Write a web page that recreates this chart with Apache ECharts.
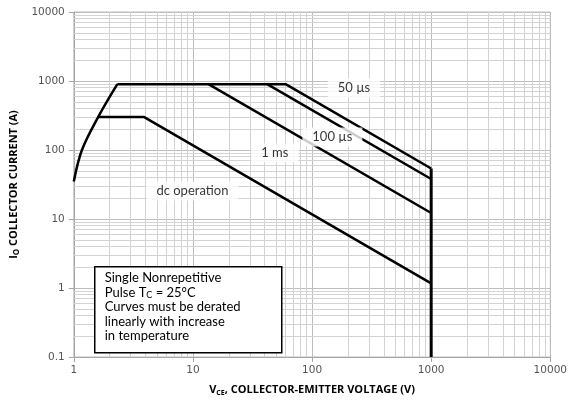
<!DOCTYPE html>
<html>
<head>
<meta charset="utf-8">
<script src="https://cdn.jsdelivr.net/npm/echarts@6/dist/echarts.min.js"></script>
<style>
  html, body { margin: 0; padding: 0; background: #fff; }
  #chart { width: 570px; height: 401px; }
</style>
</head>
<body>
<div id="chart"></div>
<script>
// Safe operating area boundaries, [V_CE (V), I_C (A)]
const pulseRise = [[1, 35], [1.17, 100], [1.6, 300], [2.32, 900]];
const pulse50us = [[2.32, 900], [60, 900], [1000, 54]];
const pulse100us = [[42, 900], [1000, 38]];
const pulse1ms = [[13.5, 900], [1000, 12.2]];
const dcOperation = [[1.6, 300], [3.9, 300], [1000, 1.17]];
const voltageLimit = [[1000, 0.1], [1000, 54]];

// Curve captions, placed in data space
const captionText = ['50 \u00b5s', '100 \u00b5s', '1 ms', 'dc operation'];
const captionAt = [[225, 795], [148, 154], [48.7, 90.5], [9.9, 25.5]];

// Axis extents (decades)
const xDecades = [1, 10, 100, 1000, 10000];
const yDecades = [0.1, 1, 10, 100, 1000, 10000];

// Minor gridline positions: 2..9 within each decade
function minorSteps(decades) {
  const out = [];
  for (let i = 0; i < decades.length - 1; i++) {
    for (let m = 2; m <= 9; m++) out.push(+(decades[i] * m).toPrecision(6));
  }
  return out;
}
const xMinor = minorSteps(xDecades);
const yMinor = minorSteps(yDecades);

const chart = echarts.init(document.getElementById('chart'), null, { renderer: 'canvas' });

function curve(data, width, smooth) {
  return {
    type: 'line', data: data, showSymbol: false, symbol: 'none', silent: true,
    smooth: smooth || false,
    lineStyle: { color: '#000', width: width || 2.5 }, z: 5, animation: false
  };
}

const gridLines = {
  type: 'line', data: [], silent: true, animation: false, z: 1,
  markLine: {
    silent: true, symbol: 'none', animation: false, label: { show: false },
    lineStyle: { color: '#d3d3d3', width: 1, type: 'solid' },
    data: xMinor.map(v => ({ xAxis: v })).concat(yMinor.map(v => ({ yAxis: v })))
  }
};

const captions = {
  type: 'scatter', data: captionAt.map((p, i) => ({ value: p, name: captionText[i] })),
  symbolSize: 0, silent: true, animation: false, z: 6,
  label: {
    show: true, position: 'inside', formatter: p => p.name,
    fontFamily: 'Lato', fontSize: 13, color: '#000',
    backgroundColor: '#fff', padding: [3, 10, 3, 10]
  }
};

const axisText = { fontFamily: 'DejaVu Sans', fontSize: 10.5, color: '#555' };
const plainNumber = v => String(+v.toPrecision(6));

chart.setOption({
  animation: false,
  grid: { left: 72, right: 17, top: 12, bottom: 44, show: true, borderColor: '#bdbdbd', borderWidth: 1, backgroundColor: '#fff' },
  xAxis: {
    type: 'log', logBase: 10, min: xDecades[0], max: xDecades[xDecades.length - 1],
    name: '{b|V}{s|CE}{b|, COLLECTOR-EMITTER VOLTAGE (V)}',
    nameLocation: 'middle', nameGap: 26,
    nameTextStyle: {
      rich: {
        b: { fontFamily: 'Open Sans', fontWeight: 'bold', fontSize: 11, color: '#000' },
        s: { fontFamily: 'Open Sans', fontWeight: 'bold', fontSize: 7, color: '#000', padding: [6, 0, 0, 0] }
      }
    },
    axisLine: { show: true, lineStyle: { color: '#a6a6a6' } },
    axisTick: { show: true, length: 5, lineStyle: { color: '#a6a6a6' } },
    axisLabel: Object.assign({ margin: 8, formatter: plainNumber }, axisText),
    splitLine: { show: true, lineStyle: { color: '#bdbdbd' } }
  },
  yAxis: {
    type: 'log', logBase: 10, min: yDecades[0], max: yDecades[yDecades.length - 1],
    name: '{b|I}{s|O}{b| COLLECTOR CURRENT (A)}',
    nameLocation: 'middle', nameGap: 53, nameRotate: 90,
    nameTextStyle: {
      rich: {
        b: { fontFamily: 'Open Sans', fontWeight: 'bold', fontSize: 11, color: '#000' },
        s: { fontFamily: 'Open Sans', fontWeight: 'bold', fontSize: 8, color: '#000', padding: [6, 0, 0, 0] }
      }
    },
    axisLine: { show: true, lineStyle: { color: '#a6a6a6' } },
    axisTick: { show: true, length: 5, lineStyle: { color: '#a6a6a6' } },
    axisLabel: Object.assign({ margin: 9, formatter: plainNumber }, axisText),
    splitLine: { show: true, lineStyle: { color: '#bdbdbd' } }
  },
  series: [
    gridLines,
    curve(pulseRise, 2.5, 0.35), curve(pulse50us), curve(pulse100us), curve(pulse1ms), curve(dcOperation),
    curve(voltageLimit, 3),
    captions
  ],
  graphic: [{
    type: 'group', left: 94, top: 266, z: 100, zlevel: 1,
    children: [
      { type: 'rect', z: 100, zlevel: 1, shape: { x: 0, y: 0, width: 187, height: 86 },
        style: { fill: '#fff', stroke: '#000', lineWidth: 1.5 } },
      { type: 'text', z: 101, zlevel: 1, x: 10, y: 4,
        style: {
          text: '{a|Single Nonrepetitive}\n{a|Pulse T}{s|C}{a| = 25\u00b0C}\n{a|Curves must be derated}\n{a|linearly with increase}\n{a|in temperature}',
          rich: {
            a: { fontFamily: 'Lato', fontSize: 13, color: '#000', lineHeight: 14.5 },
            s: { fontFamily: 'Lato', fontSize: 9, color: '#000', lineHeight: 14.5, padding: [6, 0, 0, 0] }
          }
        }
      }
    ]
  }]
});
</script>
</body>
</html>
